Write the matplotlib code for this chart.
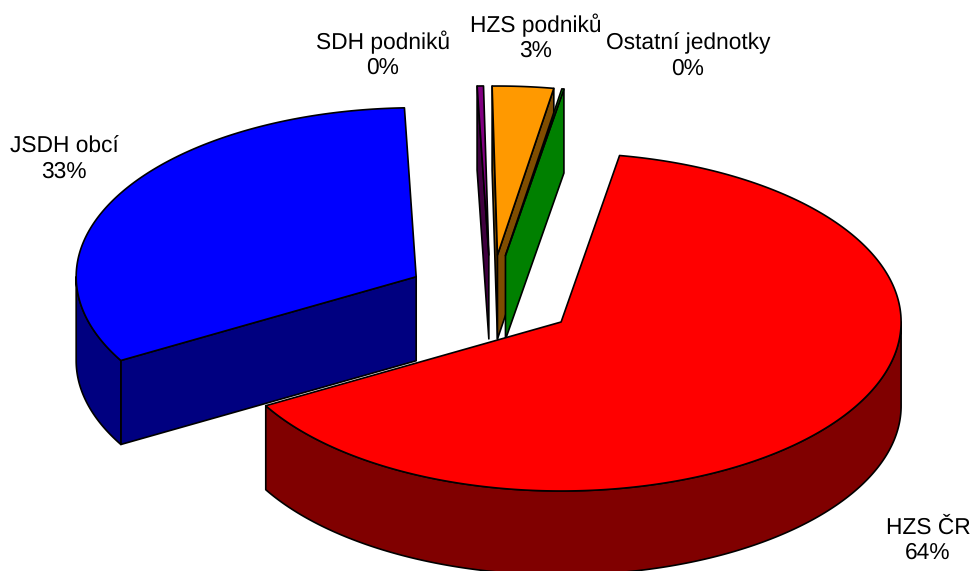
import numpy as np
import matplotlib
matplotlib.use("Agg")
import matplotlib.pyplot as plt
from matplotlib.patches import Polygon

categories = ["HZS ČR", "JSDH obcí", "SDH podniků", "HZS podniků", "Ostatní jednotky"]
values = [64.0, 32.7, 0.3, 2.9, 0.1]
pct_labels = ["64%", "33%", "0%", "3%", "0%"]
top_colors = ["#FF0000", "#0000FF", "#800080", "#FF9900", "#00FF00"]
side_colors = ["#800000", "#000080", "#400040", "#804D00", "#008000"]
label_px = [(928, 540), (64, 159), (383, 55), (536, 38), (688, 56)]
draw_order = [1, 2, 3, 4, 0]

W, H = 971, 571
CX, CY = 491.0, 297.5      # pie centre, px
RX, RY = 340.0, 169.0      # ellipse radii, px (data unit = 1 radius)
DEPTH = 84.0 / RY
EXPLODE = 0.252
START = 9.9                # clockwise from top, degrees

plt.rcParams["font.family"] = ["Liberation Sans", "DejaVu Sans"]
plt.rcParams["text.hinting"] = "no_hinting"
fig = plt.figure(figsize=(W / 100, H / 100), dpi=100)
ax = fig.add_axes([0, 0, 1, 1])
ax.set_xlim(-CX / RX, (W - CX) / RX)
ax.set_ylim(-(H - CY) / RY, CY / RY)
ax.axis("off")


def pt(a, ox, oy, r=1.0):
    t = np.radians(a)
    return np.array([ox + r * np.sin(t), oy + r * np.cos(t)])


def arc(a0, a1, ox, oy):
    n = max(2, int(abs(a1 - a0) * 2) + 2)
    return np.array([pt(a, ox, oy) for a in np.linspace(a0, a1, n)])


def face(xy, color, z):
    ax.add_patch(Polygon(xy, closed=True, facecolor=color, edgecolor="black",
                         linewidth=1.2, joinstyle="round", zorder=z))


total = sum(values)
edges = START + np.cumsum([0] + [v / total * 360 for v in values])

for order, i in enumerate(draw_order):
    a0, a1 = edges[i], edges[i + 1]
    mid = (a0 + a1) / 2
    ox, oy = pt(mid, 0, 0, EXPLODE)
    apex = np.array([ox, oy])
    down = np.array([0, -DEPTH])
    z = 10 + order * 5
    # start radial face
    if np.sin(np.radians(a0)) < 0:
        e = pt(a0, ox, oy)
        face([apex, e, e + down, apex + down], side_colors[i], z)
    # end radial face
    if np.sin(np.radians(a1)) > 0:
        e = pt(a1, ox, oy)
        face([apex, e, e + down, apex + down], side_colors[i], z)
    # outer rim, front half only
    r0, r1 = max(a0, 90), min(a1, 270)
    if r1 > r0:
        rim = arc(r0, r1, ox, oy)
        face(np.vstack([rim, (rim + down)[::-1]]), side_colors[i], z + 1)
    # top surface
    face(np.vstack([[apex], arc(a0, a1, ox, oy)]), top_colors[i], z + 2)

for name, pct, (px, py) in zip(categories, pct_labels, label_px):
    ax.text((px - CX) / RX, (CY - py) / RY, f"{name}\n{pct}", ha="center", va="center",
            fontsize=16.4, color="black", linespacing=1.2, zorder=50)

fig.savefig("out.png", dpi=100, facecolor="white")
